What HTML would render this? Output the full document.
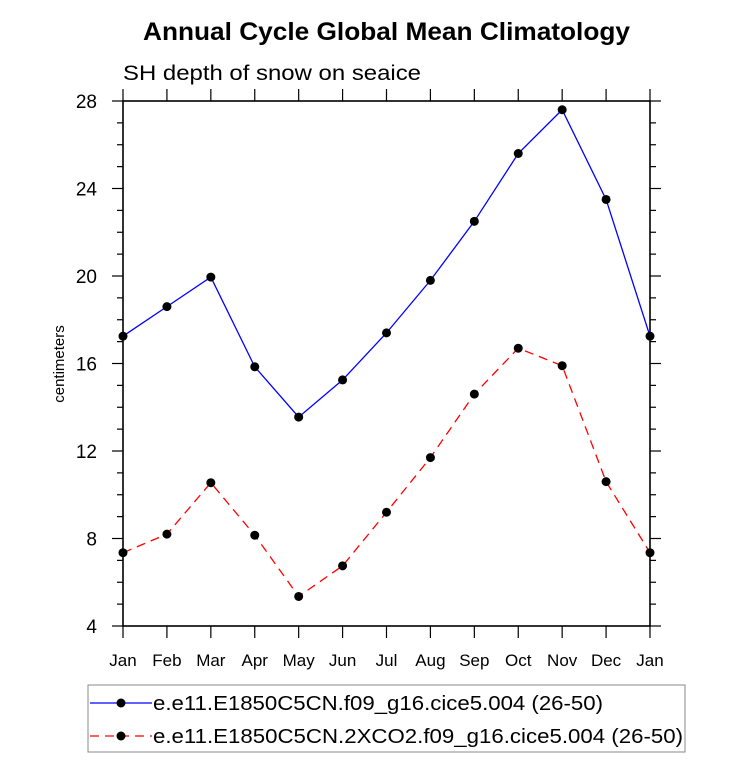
<!DOCTYPE html>
<html><head><meta charset="utf-8"><style>
body{margin:0;background:#fff;width:733px;height:761px;overflow:hidden}
svg text{font-family:"Liberation Sans",Arial,sans-serif}
</style></head><body>
<svg id="chart" width="733" height="761" xmlns="http://www.w3.org/2000/svg">
<text x="143" y="40" font-size="25" font-weight="bold" textLength="487" lengthAdjust="spacingAndGlyphs">Annual Cycle Global Mean Climatology</text>
<text x="123" y="80" font-size="21" textLength="298" lengthAdjust="spacingAndGlyphs">SH depth of snow on seaice</text>
<text transform="translate(64,364) rotate(-90)" text-anchor="middle" font-size="15">centimeters</text>
<g id="axes"></g>
<g id="series"></g>
<g>
<rect x="88" y="685" width="597" height="67" fill="none" stroke="#888" stroke-width="1"/>
<g>
<line x1="90" y1="703" x2="152" y2="703" stroke="#0000ff" stroke-width="1.3"/>
<circle cx="121" cy="703" r="4.5" fill="#000"/>
<text x="153" y="710" font-size="20" textLength="450" lengthAdjust="spacingAndGlyphs">e.e11.E1850C5CN.f09_g16.cice5.004 (26-50)</text>
</g>
<g>
<line x1="90" y1="736" x2="152" y2="736" stroke="#ff0000" stroke-width="1.3" stroke-dasharray="9,6"/>
<circle cx="121" cy="736" r="4.5" fill="#000"/>
<text x="153" y="743" font-size="20" textLength="530" lengthAdjust="spacingAndGlyphs">e.e11.E1850C5CN.2XCO2.f09_g16.cice5.004 (26-50)</text>
</g>
</g>
</svg>
<script>
const months=["Jan","Feb","Mar","Apr","May","Jun","Jul","Aug","Sep","Oct","Nov","Dec","Jan"];
const controlValues=[17.25,18.6,19.95,15.85,13.55,15.25,17.4,19.8,22.5,25.6,27.6,23.5,17.25];
const co2Values=[7.35,8.2,10.55,8.15,5.35,6.75,9.2,11.7,14.6,16.7,15.9,10.6,7.35];
const yTicks=[4,8,12,16,20,24,28];
const X0=123,X1=650,Y0=626,Y1=101,YMIN=4,YMAX=28;
const NS="http://www.w3.org/2000/svg";
function xs(i){return X0+(X1-X0)*i/(months.length-1);}
function ys(v){return Y0-(v-YMIN)/(YMAX-YMIN)*(Y0-Y1);}
function mk(t,a,p){const e=document.createElementNS(NS,t);for(const k in a)e.setAttribute(k,a[k]);p.appendChild(e);return e;}
const ax=document.getElementById('axes');
const fr=mk('rect',{x:X0,y:Y1,width:X1-X0,height:Y0-Y1,fill:'none',stroke:'#000','stroke-width':1.6},ax);


for(let v=YMIN;v<=YMAX;v++){
  const y=ys(v),L=(v%4===0)?11:6;
  mk('line',{x1:X0-L,y1:y,x2:X0,y2:y,stroke:'#000','stroke-width':1.2},ax);
  mk('line',{x1:X1,y1:y,x2:X1+L,y2:y,stroke:'#000','stroke-width':1.2},ax);
}
yTicks.forEach(v=>{
  const t=mk('text',{x:X0-26,y:ys(v)+7,'text-anchor':'end','font-size':19},ax);
  t.textContent=v;
  
  
});
months.forEach((m,i)=>{
  const x=xs(i);
  mk('line',{x1:x,y1:Y0,x2:x,y2:Y0+12,stroke:'#000','stroke-width':1.2},ax);
  mk('line',{x1:x,y1:Y1-12,x2:x,y2:Y1,stroke:'#000','stroke-width':1.2},ax);
  const t=mk('text',{x:x,y:Y0+40,'text-anchor':'middle','font-size':17},ax);
  t.textContent=m;
  
  
});
const sg=document.getElementById('series');
function drawSeries(vals,color,dash,name){
  const pts=vals.map((v,i)=>xs(i)+','+ys(v)).join(' ');
  const pl=mk('polyline',{points:pts,fill:'none',stroke:color,'stroke-width':1.3,'stroke-dasharray':dash},sg);
  
  
  vals.forEach((v,i)=>{
    const c=mk('circle',{cx:xs(i),cy:ys(v),r:4.5,fill:'#000'},sg);
    
    
  });
}
drawSeries(controlValues,'#0000ff','none','control');
drawSeries(co2Values,'#ff0000','9,6','2xco2');
</script>
</body></html>
